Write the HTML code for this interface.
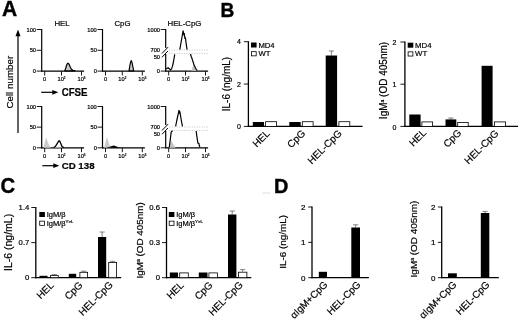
<!DOCTYPE html>
<html><head><meta charset="utf-8"><title>Figure</title>
<style>html,body{margin:0;padding:0;background:#fff;}svg{display:block}text{font-family:"Liberation Sans", sans-serif;fill:#000;stroke:#000;stroke-width:0.2px}</style>
</head><body>
<svg width="520" height="320" viewBox="0 0 520 320">
<rect width="520" height="320" fill="#fff"/>
<text transform="translate(2.0 15.5) scale(0.97 1)" font-size="21.7" font-weight="bold" style="stroke-width:0.4px">A</text>
<text transform="translate(220.4 17) scale(0.94 1)" font-size="20.4" font-weight="bold" style="stroke-width:0.4px">B</text>
<text transform="translate(0.6 192.9) scale(0.92 1)" font-size="22.1" font-weight="bold" style="stroke-width:0.4px">C</text>
<text transform="translate(274 192.6) scale(0.95 1)" font-size="21" font-weight="bold" style="stroke-width:0.4px">D</text>
<line x1="262.3" y1="193" x2="270.2" y2="193" stroke="#ddd" stroke-width="1"/>
<line x1="18" y1="133" x2="18" y2="35" stroke="#222" stroke-width="1.4"/>
<path d="M18 29.6 L15.5 36.3 L20.5 36.3 Z" fill="#000" stroke="none" stroke-width="1"/>
<text x="13.3" y="82.2" font-size="9.8" text-anchor="middle" transform="rotate(-90 13.3 82.2)">Cell number</text>
<text x="62" y="25.6" font-size="7.8" text-anchor="middle">HEL</text>
<text x="122.5" y="25.6" font-size="7.8" text-anchor="middle">CpG</text>
<text x="184.4" y="25.6" font-size="7.8" text-anchor="middle">HEL-CpG</text>
<line x1="41.2" y1="92.3" x2="53" y2="92.3" stroke="#000" stroke-width="1.2"/>
<path d="M58.3 92.3 L52.3 89.9 L52.3 94.7 Z" fill="#000" stroke="none" stroke-width="1"/>
<text transform="translate(61.7 95.9) scale(0.97 1)" font-size="10" font-weight="bold">CFSE</text>
<line x1="42.3" y1="165.7" x2="54" y2="165.7" stroke="#000" stroke-width="1.2"/>
<path d="M59.3 165.7 L53.3 163.3 L53.3 168.1 Z" fill="#000" stroke="none" stroke-width="1"/>
<text x="61.7" y="169.2" font-size="9.7" text-anchor="start" font-weight="bold">CD 138</text>
<line x1="41.7" y1="29.0" x2="41.7" y2="71.6" stroke="#000" stroke-width="1.2"/>
<line x1="36.7" y1="71.1" x2="41.7" y2="71.1" stroke="#000" stroke-width="0.9"/>
<text x="36.0" y="73.19999999999999" font-size="5.7" text-anchor="end">0</text>
<line x1="36.7" y1="50.3" x2="41.7" y2="50.3" stroke="#000" stroke-width="0.9"/>
<text x="36.0" y="52.4" font-size="5.7" text-anchor="end">50</text>
<line x1="36.7" y1="29.5" x2="41.7" y2="29.5" stroke="#000" stroke-width="0.9"/>
<text x="36.0" y="31.6" font-size="5.7" text-anchor="end">100</text>
<line x1="41.2" y1="71.1" x2="84.1" y2="71.1" stroke="#000" stroke-width="1.3"/>
<line x1="44.7" y1="71.1" x2="44.7" y2="75.5" stroke="#000" stroke-width="0.9"/>
<text x="44.7" y="81.3" font-size="5.7" text-anchor="middle">0</text>
<line x1="61.5" y1="71.1" x2="61.5" y2="75.5" stroke="#000" stroke-width="0.9"/>
<text x="61.5" y="81.3" font-size="5.7" text-anchor="middle">10<tspan font-size="3" dy="-2.2">2</tspan></text>
<line x1="81.5" y1="71.1" x2="81.5" y2="75.5" stroke="#000" stroke-width="0.9"/>
<text x="81.5" y="81.3" font-size="5.7" text-anchor="middle">10<tspan font-size="3" dy="-2.2">5</tspan></text>
<line x1="102.5" y1="29.0" x2="102.5" y2="71.6" stroke="#000" stroke-width="1.2"/>
<line x1="97.5" y1="71.1" x2="102.5" y2="71.1" stroke="#000" stroke-width="0.9"/>
<text x="96.8" y="73.19999999999999" font-size="5.7" text-anchor="end">0</text>
<line x1="97.5" y1="50.3" x2="102.5" y2="50.3" stroke="#000" stroke-width="0.9"/>
<text x="96.8" y="52.4" font-size="5.7" text-anchor="end">50</text>
<line x1="97.5" y1="29.5" x2="102.5" y2="29.5" stroke="#000" stroke-width="0.9"/>
<text x="96.8" y="31.6" font-size="5.7" text-anchor="end">100</text>
<line x1="102.0" y1="71.1" x2="144.9" y2="71.1" stroke="#000" stroke-width="1.3"/>
<line x1="105.5" y1="71.1" x2="105.5" y2="75.5" stroke="#000" stroke-width="0.9"/>
<text x="105.5" y="81.3" font-size="5.7" text-anchor="middle">0</text>
<line x1="122.3" y1="71.1" x2="122.3" y2="75.5" stroke="#000" stroke-width="0.9"/>
<text x="122.3" y="81.3" font-size="5.7" text-anchor="middle">10<tspan font-size="3" dy="-2.2">2</tspan></text>
<line x1="142.3" y1="71.1" x2="142.3" y2="75.5" stroke="#000" stroke-width="0.9"/>
<text x="142.3" y="81.3" font-size="5.7" text-anchor="middle">10<tspan font-size="3" dy="-2.2">5</tspan></text>
<line x1="165.7" y1="29.0" x2="165.7" y2="48.0" stroke="#000" stroke-width="1.2"/>
<line x1="165.7" y1="54.0" x2="165.7" y2="71.6" stroke="#000" stroke-width="1.2"/>
<text x="160.0" y="31.6" font-size="5.7" text-anchor="end">1000</text>
<text x="160.0" y="51.800000000000004" font-size="5.7" text-anchor="end">700</text>
<text x="160.0" y="58.9" font-size="5.7" text-anchor="end">50</text>
<text x="160.0" y="73.19999999999999" font-size="5.7" text-anchor="end">0</text>
<line x1="160.7" y1="29.5" x2="165.7" y2="29.5" stroke="#000" stroke-width="0.9"/>
<line x1="160.7" y1="71.1" x2="165.7" y2="71.1" stroke="#000" stroke-width="0.9"/>
<line x1="162.0" y1="53.5" x2="168.1" y2="47.1" stroke="#000" stroke-width="1"/>
<line x1="162.0" y1="57.3" x2="167.89999999999998" y2="51.0" stroke="#000" stroke-width="1"/>
<line x1="169.2" y1="50.0" x2="208.6" y2="50.0" stroke="#b4b4b4" stroke-width="0.8" stroke-dasharray="1 1.5"/>
<line x1="169.2" y1="53.4" x2="208.6" y2="53.4" stroke="#b4b4b4" stroke-width="0.8" stroke-dasharray="1 1.5"/>
<line x1="165.2" y1="71.1" x2="208.1" y2="71.1" stroke="#000" stroke-width="1.3"/>
<line x1="168.7" y1="71.1" x2="168.7" y2="75.5" stroke="#000" stroke-width="0.9"/>
<text x="168.7" y="81.3" font-size="5.7" text-anchor="middle">0</text>
<line x1="185.5" y1="71.1" x2="185.5" y2="75.5" stroke="#000" stroke-width="0.9"/>
<text x="185.5" y="81.3" font-size="5.7" text-anchor="middle">10<tspan font-size="3" dy="-2.2">2</tspan></text>
<line x1="205.5" y1="71.1" x2="205.5" y2="75.5" stroke="#000" stroke-width="0.9"/>
<text x="205.5" y="81.3" font-size="5.7" text-anchor="middle">10<tspan font-size="3" dy="-2.2">5</tspan></text>
<line x1="41.7" y1="106.0" x2="41.7" y2="148.3" stroke="#000" stroke-width="1.2"/>
<line x1="36.7" y1="147.8" x2="41.7" y2="147.8" stroke="#000" stroke-width="0.9"/>
<text x="36.0" y="149.9" font-size="5.7" text-anchor="end">0</text>
<line x1="36.7" y1="127.15" x2="41.7" y2="127.15" stroke="#000" stroke-width="0.9"/>
<text x="36.0" y="129.25" font-size="5.7" text-anchor="end">50</text>
<line x1="36.7" y1="106.5" x2="41.7" y2="106.5" stroke="#000" stroke-width="0.9"/>
<text x="36.0" y="108.6" font-size="5.7" text-anchor="end">100</text>
<line x1="41.2" y1="147.8" x2="84.1" y2="147.8" stroke="#000" stroke-width="1.3"/>
<line x1="44.7" y1="147.8" x2="44.7" y2="152.20000000000002" stroke="#000" stroke-width="0.9"/>
<text x="44.7" y="158.0" font-size="5.7" text-anchor="middle">0</text>
<line x1="61.5" y1="147.8" x2="61.5" y2="152.20000000000002" stroke="#000" stroke-width="0.9"/>
<text x="61.5" y="158.0" font-size="5.7" text-anchor="middle">10<tspan font-size="3" dy="-2.2">2</tspan></text>
<line x1="81.5" y1="147.8" x2="81.5" y2="152.20000000000002" stroke="#000" stroke-width="0.9"/>
<text x="81.5" y="158.0" font-size="5.7" text-anchor="middle">10<tspan font-size="3" dy="-2.2">5</tspan></text>
<line x1="102.5" y1="106.0" x2="102.5" y2="148.3" stroke="#000" stroke-width="1.2"/>
<line x1="97.5" y1="147.8" x2="102.5" y2="147.8" stroke="#000" stroke-width="0.9"/>
<text x="96.8" y="149.9" font-size="5.7" text-anchor="end">0</text>
<line x1="97.5" y1="127.15" x2="102.5" y2="127.15" stroke="#000" stroke-width="0.9"/>
<text x="96.8" y="129.25" font-size="5.7" text-anchor="end">50</text>
<line x1="97.5" y1="106.5" x2="102.5" y2="106.5" stroke="#000" stroke-width="0.9"/>
<text x="96.8" y="108.6" font-size="5.7" text-anchor="end">100</text>
<line x1="102.0" y1="147.8" x2="144.9" y2="147.8" stroke="#000" stroke-width="1.3"/>
<line x1="105.5" y1="147.8" x2="105.5" y2="152.20000000000002" stroke="#000" stroke-width="0.9"/>
<text x="105.5" y="158.0" font-size="5.7" text-anchor="middle">0</text>
<line x1="122.3" y1="147.8" x2="122.3" y2="152.20000000000002" stroke="#000" stroke-width="0.9"/>
<text x="122.3" y="158.0" font-size="5.7" text-anchor="middle">10<tspan font-size="3" dy="-2.2">2</tspan></text>
<line x1="142.3" y1="147.8" x2="142.3" y2="152.20000000000002" stroke="#000" stroke-width="0.9"/>
<text x="142.3" y="158.0" font-size="5.7" text-anchor="middle">10<tspan font-size="3" dy="-2.2">5</tspan></text>
<line x1="165.7" y1="106.0" x2="165.7" y2="125.0" stroke="#000" stroke-width="1.2"/>
<line x1="165.7" y1="131.0" x2="165.7" y2="148.3" stroke="#000" stroke-width="1.2"/>
<text x="160.0" y="108.6" font-size="5.7" text-anchor="end">1000</text>
<text x="160.0" y="128.8" font-size="5.7" text-anchor="end">700</text>
<text x="160.0" y="135.9" font-size="5.7" text-anchor="end">50</text>
<text x="160.0" y="149.9" font-size="5.7" text-anchor="end">0</text>
<line x1="160.7" y1="106.5" x2="165.7" y2="106.5" stroke="#000" stroke-width="0.9"/>
<line x1="160.7" y1="147.8" x2="165.7" y2="147.8" stroke="#000" stroke-width="0.9"/>
<line x1="162.0" y1="130.5" x2="168.1" y2="124.1" stroke="#000" stroke-width="1"/>
<line x1="162.0" y1="134.3" x2="167.89999999999998" y2="128.0" stroke="#000" stroke-width="1"/>
<line x1="169.2" y1="127.0" x2="208.6" y2="127.0" stroke="#b4b4b4" stroke-width="0.8" stroke-dasharray="1 1.5"/>
<line x1="169.2" y1="130.4" x2="208.6" y2="130.4" stroke="#b4b4b4" stroke-width="0.8" stroke-dasharray="1 1.5"/>
<line x1="165.2" y1="147.8" x2="208.1" y2="147.8" stroke="#000" stroke-width="1.3"/>
<line x1="168.7" y1="147.8" x2="168.7" y2="152.20000000000002" stroke="#000" stroke-width="0.9"/>
<text x="168.7" y="158.0" font-size="5.7" text-anchor="middle">0</text>
<line x1="185.5" y1="147.8" x2="185.5" y2="152.20000000000002" stroke="#000" stroke-width="0.9"/>
<text x="185.5" y="158.0" font-size="5.7" text-anchor="middle">10<tspan font-size="3" dy="-2.2">2</tspan></text>
<line x1="205.5" y1="147.8" x2="205.5" y2="152.20000000000002" stroke="#000" stroke-width="0.9"/>
<text x="205.5" y="158.0" font-size="5.7" text-anchor="middle">10<tspan font-size="3" dy="-2.2">5</tspan></text>
<path d="M64.8 70.8 L65.8 68 L66.8 64.5 L67.8 63.2 L69 64 L70 66.5 L71.2 69 L72.8 70.3 L75 70.8 Z" fill="#c8c8c8" stroke="#000" stroke-width="1.2" stroke-linejoin="round"/>
<path d="M129 70.8 L129.8 66 L130.6 62 L131.3 60.6 L132 62.5 L132.8 66.5 L133.7 70.8 Z" fill="#c8c8c8" stroke="#000" stroke-width="1.2" stroke-linejoin="round"/>
<path d="M191.2 70.8 L192.3 68 L193.5 65 L194.7 67.5 L196.3 70.8 Z" fill="#c4c4c4" stroke="none" stroke-width="1"/>
<path d="M166.2 69 L167.2 68.2 L168.1 67.7 L169.3 68.8 L170.6 70 L171.6 68.8 L172.5 66.2 L173.2 63 L173.8 60 L174.3 57 L174.7 54.3" fill="none" stroke="#000" stroke-width="1.2"/>
<path d="M179.8 49.6 L180.6 45 L181.4 40.5 L182.2 36 L183.1 30.6 L183.8 34.5 L184.3 34 L184.9 38.2 L185.5 38 L186 42.5 L186.5 46 L187.1 49.6" fill="none" stroke="#000" stroke-width="1.2"/>
<path d="M190.5 54 L191.2 56.5 L192 58.5 L192.6 60.5 L193.3 62.5 L193.9 64.8 L194.8 66.5 L195.6 68.2 L196.4 69.6 L197.3 70.4" fill="none" stroke="#000" stroke-width="1.2"/>
<path d="M43.6 147.8 L44.8 142 L46.2 137.5 L47.5 141 L49 145 L50.8 147.8 Z" fill="#ccc" stroke="none" stroke-width="1"/>
<path d="M53.8 147.6 L55.3 146.5 L57 143.8 L58.8 140.9 L59.7 141 L60.8 143.5 L62 146.6 L63.8 147.6" fill="#fff" stroke="#000" stroke-width="1.3" stroke-linejoin="round"/>
<path d="M104.3 147.8 L105.5 142 L106.9 137 L108.2 141 L109.5 145 L110.8 147.8 Z" fill="#ccc" stroke="none" stroke-width="1"/>
<path d="M105.6 147.8 L109 147 L112 146 L113.8 145.5 L116 146.3 L118.5 147.2 L120.8 147.8 Z" fill="#000" stroke="none" stroke-width="1"/>
<path d="M169.3 147.8 L170.3 143.5 L171.3 140.6 L172.8 143.5 L174.2 146 L175.7 147.8 Z" fill="#c4c4c4" stroke="none" stroke-width="1"/>
<path d="M169.3 147.2 L169.8 143 L170.4 138.7 L170.8 135 L171.2 132.3 L171.8 131.3 L172.8 131" fill="none" stroke="#000" stroke-width="1.2"/>
<path d="M175.6 126.3 L176.3 123 L177 119.5 L177.8 116 L178.5 112.5 L179 110.1 L179.6 113 L180 112.5 L180.5 115.5 L181 118.5 L181.7 122.5 L182.5 126.3" fill="none" stroke="#000" stroke-width="1.2"/>
<path d="M196.2 131 L196.6 134.5 L197.2 138.7 L197.9 143 L199 143.6 L199.3 145.5 L199.8 147" fill="none" stroke="#000" stroke-width="1.2"/>
<line x1="248.4" y1="41.2" x2="248.4" y2="127.0" stroke="#000" stroke-width="1.3"/>
<line x1="247.8" y1="126.4" x2="362.5" y2="126.4" stroke="#000" stroke-width="1.3"/>
<line x1="243.9" y1="126.4" x2="248.4" y2="126.4" stroke="#000" stroke-width="0.9"/>
<text x="240.8" y="128.9" font-size="7" text-anchor="end">0</text>
<line x1="243.9" y1="84.05000000000001" x2="248.4" y2="84.05000000000001" stroke="#000" stroke-width="0.9"/>
<text x="240.8" y="86.55000000000001" font-size="7" text-anchor="end">2</text>
<line x1="243.9" y1="41.7" x2="248.4" y2="41.7" stroke="#000" stroke-width="0.9"/>
<text x="240.8" y="44.2" font-size="7" text-anchor="end">4</text>
<text x="230.5" y="84.05000000000001" font-size="10" text-anchor="middle" transform="rotate(-90 230.5 84.05000000000001)">IL-6 (ng/mL)</text>
<rect x="252.80" y="122.00" width="11.20" height="4.40" fill="#000"/>
<rect x="265.60" y="121.70" width="11.00" height="4.70" fill="#fff" stroke="#000" stroke-width="0.8"/>
<rect x="289.30" y="122.00" width="11.40" height="4.40" fill="#000"/>
<rect x="302.30" y="121.70" width="10.80" height="4.70" fill="#fff" stroke="#000" stroke-width="0.8"/>
<line x1="331.4" y1="55.5" x2="331.4" y2="51" stroke="#333" stroke-width="0.6"/>
<line x1="328.79999999999995" y1="51" x2="334.0" y2="51" stroke="#333" stroke-width="0.6"/>
<rect x="325.70" y="55.50" width="11.40" height="70.90" fill="#000"/>
<rect x="338.90" y="121.70" width="10.90" height="4.70" fill="#fff" stroke="#000" stroke-width="0.8"/>
<text x="270.4" y="134" font-size="10" text-anchor="end" transform="rotate(-45 270.4 134)">HEL</text>
<text x="305.9" y="134" font-size="10" text-anchor="end" transform="rotate(-45 305.9 134)">CpG</text>
<text x="342.4" y="134" font-size="10" text-anchor="end" transform="rotate(-45 342.4 134)">HEL-CpG</text>
<rect x="251.00" y="42.50" width="5.60" height="5.00" fill="#000"/>
<text x="258.4" y="47.5" font-size="7.7" text-anchor="start">MD4</text>
<rect x="251.40" y="51.65" width="4.80" height="4.20" fill="#fff" stroke="#000" stroke-width="0.8"/>
<text x="258.4" y="56.25" font-size="7.7" text-anchor="start">WT</text>
<line x1="404.9" y1="41.5" x2="404.9" y2="127.0" stroke="#000" stroke-width="1.3"/>
<line x1="404.29999999999995" y1="126.4" x2="518" y2="126.4" stroke="#000" stroke-width="1.3"/>
<line x1="400.4" y1="126.4" x2="404.9" y2="126.4" stroke="#000" stroke-width="0.9"/>
<text x="396.29999999999995" y="129.5" font-size="7" text-anchor="end">0</text>
<line x1="400.4" y1="84.2" x2="404.9" y2="84.2" stroke="#000" stroke-width="0.9"/>
<text x="396.29999999999995" y="87.3" font-size="7" text-anchor="end">1</text>
<line x1="400.4" y1="42.0" x2="404.9" y2="42.0" stroke="#000" stroke-width="0.9"/>
<text x="396.29999999999995" y="45.1" font-size="7" text-anchor="end">2</text>
<text x="387" y="80.5" font-size="10" text-anchor="middle" transform="rotate(-90 387 80.5)">IgM<tspan font-size="5" dy="-3.5">a</tspan><tspan dy="3.5"> (OD 405nm)</tspan></text>
<rect x="409.30" y="114.50" width="11.30" height="11.90" fill="#000"/>
<rect x="421.90" y="121.90" width="10.70" height="4.50" fill="#fff" stroke="#000" stroke-width="0.8"/>
<line x1="450.9" y1="119.4" x2="450.9" y2="118" stroke="#333" stroke-width="0.6"/>
<line x1="448.29999999999995" y1="118" x2="453.5" y2="118" stroke="#333" stroke-width="0.6"/>
<rect x="445.50" y="119.40" width="10.80" height="7.00" fill="#000"/>
<rect x="457.70" y="122.40" width="10.50" height="4.00" fill="#fff" stroke="#000" stroke-width="0.8"/>
<rect x="481.60" y="65.80" width="11.00" height="60.60" fill="#000"/>
<rect x="494.40" y="121.90" width="11.20" height="4.50" fill="#fff" stroke="#000" stroke-width="0.8"/>
<text x="427" y="133.3" font-size="10" text-anchor="end" transform="rotate(-45 427 133.3)">HEL</text>
<text x="462" y="133.5" font-size="10" text-anchor="end" transform="rotate(-45 462 133.5)">CpG</text>
<text x="499.2" y="134" font-size="10" text-anchor="end" transform="rotate(-45 499.2 134)">HEL-CpG</text>
<rect x="407.70" y="42.70" width="5.60" height="5.00" fill="#000"/>
<text x="415.09999999999997" y="47.7" font-size="7.8" text-anchor="start">MD4</text>
<rect x="408.10" y="51.85" width="4.80" height="4.20" fill="#fff" stroke="#000" stroke-width="0.8"/>
<text x="415.09999999999997" y="56.45" font-size="7.8" text-anchor="start">WT</text>
<line x1="35.8" y1="207.0" x2="35.8" y2="278.3" stroke="#000" stroke-width="1.3"/>
<line x1="35.199999999999996" y1="277.7" x2="121.2" y2="277.7" stroke="#000" stroke-width="1.3"/>
<line x1="31.299999999999997" y1="277.7" x2="35.8" y2="277.7" stroke="#000" stroke-width="0.9"/>
<text x="29.299999999999997" y="280.2" font-size="7.7" text-anchor="end">0</text>
<line x1="31.299999999999997" y1="242.6" x2="35.8" y2="242.6" stroke="#000" stroke-width="0.9"/>
<text x="29.299999999999997" y="245.1" font-size="7.7" text-anchor="end">0.7</text>
<line x1="31.299999999999997" y1="207.5" x2="35.8" y2="207.5" stroke="#000" stroke-width="0.9"/>
<text x="29.299999999999997" y="210.0" font-size="7.7" text-anchor="end">1.4</text>
<text x="11.6" y="242.4" font-size="10.5" text-anchor="middle" transform="rotate(-90 11.6 242.4)">IL-6 (ng/mL)</text>
<rect x="39.50" y="275.80" width="8.00" height="1.90" fill="#000"/>
<line x1="54.35" y1="275.2" x2="54.35" y2="274.6" stroke="#333" stroke-width="0.6"/>
<line x1="51.75" y1="274.6" x2="56.95" y2="274.6" stroke="#333" stroke-width="0.6"/>
<rect x="50.40" y="275.60" width="7.90" height="2.10" fill="#fff" stroke="#000" stroke-width="0.8"/>
<rect x="68.80" y="273.80" width="7.40" height="3.90" fill="#000"/>
<line x1="83.75" y1="271.9" x2="83.75" y2="271.2" stroke="#333" stroke-width="0.6"/>
<line x1="81.15" y1="271.2" x2="86.35" y2="271.2" stroke="#333" stroke-width="0.6"/>
<rect x="79.90" y="272.30" width="7.70" height="5.40" fill="#fff" stroke="#000" stroke-width="0.8"/>
<line x1="102.1" y1="237" x2="102.1" y2="232" stroke="#333" stroke-width="0.6"/>
<line x1="99.5" y1="232" x2="104.69999999999999" y2="232" stroke="#333" stroke-width="0.6"/>
<rect x="98.00" y="237.00" width="8.20" height="40.70" fill="#000"/>
<line x1="112.65" y1="262" x2="112.65" y2="261.3" stroke="#333" stroke-width="0.6"/>
<line x1="110.05000000000001" y1="261.3" x2="115.25" y2="261.3" stroke="#333" stroke-width="0.6"/>
<rect x="108.70" y="262.40" width="7.90" height="15.30" fill="#fff" stroke="#000" stroke-width="0.8"/>
<text x="54.5" y="285.8" font-size="10" text-anchor="end" transform="rotate(-45 54.5 285.8)">HEL</text>
<text x="83.2" y="285.8" font-size="10" text-anchor="end" transform="rotate(-45 83.2 285.8)">CpG</text>
<text x="113.4" y="285.5" font-size="10" text-anchor="end" transform="rotate(-45 113.4 285.5)">HEL-CpG</text>
<rect x="39.30" y="212.00" width="5.60" height="5.00" fill="#000"/>
<text x="46.699999999999996" y="217.0" font-size="7.5" text-anchor="start">IgM/β</text>
<rect x="39.70" y="221.15" width="4.80" height="4.20" fill="#fff" stroke="#000" stroke-width="0.8"/>
<text x="46.699999999999996" y="225.75" font-size="7.5" text-anchor="start">IgM/β<tspan font-size="4.4" dy="-2.6">Y&gt;L</tspan></text>
<line x1="166.5" y1="207.0" x2="166.5" y2="278.3" stroke="#000" stroke-width="1.3"/>
<line x1="165.9" y1="277.7" x2="251.3" y2="277.7" stroke="#000" stroke-width="1.3"/>
<line x1="162.0" y1="277.7" x2="166.5" y2="277.7" stroke="#000" stroke-width="0.9"/>
<text x="160.0" y="280.2" font-size="7.7" text-anchor="end">0</text>
<line x1="162.0" y1="242.6" x2="166.5" y2="242.6" stroke="#000" stroke-width="0.9"/>
<text x="160.0" y="245.1" font-size="7.7" text-anchor="end">0.3</text>
<line x1="162.0" y1="207.5" x2="166.5" y2="207.5" stroke="#000" stroke-width="0.9"/>
<text x="160.0" y="210.0" font-size="7.7" text-anchor="end">0.6</text>
<text x="143.2" y="240.3" font-size="9.9" text-anchor="middle" transform="rotate(-90 143.2 240.3)">IgM<tspan font-size="5" dy="-3.5">a</tspan><tspan dy="3.5"> (OD 405nm)</tspan></text>
<rect x="169.80" y="272.50" width="8.20" height="5.20" fill="#000"/>
<rect x="179.70" y="272.90" width="8.60" height="4.80" fill="#fff" stroke="#000" stroke-width="0.8"/>
<rect x="198.80" y="272.50" width="8.70" height="5.20" fill="#000"/>
<rect x="208.90" y="272.90" width="8.50" height="4.80" fill="#fff" stroke="#000" stroke-width="0.8"/>
<line x1="232.2" y1="214.5" x2="232.2" y2="211" stroke="#333" stroke-width="0.6"/>
<line x1="229.6" y1="211" x2="234.79999999999998" y2="211" stroke="#333" stroke-width="0.6"/>
<rect x="228.00" y="214.50" width="8.40" height="63.20" fill="#000"/>
<line x1="242.65" y1="271.8" x2="242.65" y2="269.6" stroke="#333" stroke-width="0.6"/>
<line x1="240.05" y1="269.6" x2="245.25" y2="269.6" stroke="#333" stroke-width="0.6"/>
<rect x="238.40" y="272.20" width="8.50" height="5.50" fill="#fff" stroke="#000" stroke-width="0.8"/>
<text x="184.5" y="285.8" font-size="10" text-anchor="end" transform="rotate(-45 184.5 285.8)">HEL</text>
<text x="213.2" y="285.8" font-size="10" text-anchor="end" transform="rotate(-45 213.2 285.8)">CpG</text>
<text x="243.4" y="285.5" font-size="10" text-anchor="end" transform="rotate(-45 243.4 285.5)">HEL-CpG</text>
<rect x="168.80" y="212.00" width="5.60" height="5.00" fill="#000"/>
<text x="176.20000000000002" y="217.0" font-size="7.5" text-anchor="start">IgM/β</text>
<rect x="169.20" y="221.15" width="4.80" height="4.20" fill="#fff" stroke="#000" stroke-width="0.8"/>
<text x="176.20000000000002" y="225.75" font-size="7.5" text-anchor="start">IgM/β<tspan font-size="4.4" dy="-2.6">Y&gt;L</tspan></text>
<line x1="312" y1="206.5" x2="312" y2="278.3" stroke="#000" stroke-width="1.3"/>
<line x1="311.4" y1="277.7" x2="368.9" y2="277.7" stroke="#000" stroke-width="1.3"/>
<line x1="308.2" y1="277.7" x2="312" y2="277.7" stroke="#000" stroke-width="0.9"/>
<text x="305.4" y="280.5" font-size="8" text-anchor="end">0</text>
<line x1="308.2" y1="242.35" x2="312" y2="242.35" stroke="#000" stroke-width="0.9"/>
<text x="305.4" y="245.15" font-size="8" text-anchor="end">1</text>
<line x1="308.2" y1="207.0" x2="312" y2="207.0" stroke="#000" stroke-width="0.9"/>
<text x="305.4" y="209.8" font-size="8" text-anchor="end">2</text>
<text x="286.4" y="241.8" font-size="9.9" text-anchor="middle" transform="rotate(-90 286.4 241.8)">IL-6 (ng/mL)</text>
<rect x="318.80" y="271.80" width="8.20" height="5.90" fill="#000"/>
<line x1="355.65" y1="227.5" x2="355.65" y2="224.8" stroke="#333" stroke-width="0.6"/>
<line x1="353.04999999999995" y1="224.8" x2="358.25" y2="224.8" stroke="#333" stroke-width="0.6"/>
<rect x="351.30" y="227.50" width="8.70" height="50.20" fill="#000"/>
<text x="328.3" y="285.2" font-size="9.9" text-anchor="end" transform="rotate(-45 328.3 285.2)">αIgM+CpG</text>
<text x="361.3" y="285.2" font-size="9.9" text-anchor="end" transform="rotate(-45 361.3 285.2)">HEL-CpG</text>
<line x1="441.7" y1="206.5" x2="441.7" y2="278.3" stroke="#000" stroke-width="1.3"/>
<line x1="441.09999999999997" y1="277.7" x2="498.8" y2="277.7" stroke="#000" stroke-width="1.3"/>
<line x1="437.9" y1="277.7" x2="441.7" y2="277.7" stroke="#000" stroke-width="0.9"/>
<text x="435.5" y="280.5" font-size="8" text-anchor="end">0</text>
<line x1="437.9" y1="242.35" x2="441.7" y2="242.35" stroke="#000" stroke-width="0.9"/>
<text x="435.5" y="245.15" font-size="8" text-anchor="end">1</text>
<line x1="437.9" y1="207.0" x2="441.7" y2="207.0" stroke="#000" stroke-width="0.9"/>
<text x="435.5" y="209.8" font-size="8" text-anchor="end">2</text>
<text x="417.2" y="239" font-size="9.95" text-anchor="middle" transform="rotate(-90 417.2 239)">IgM<tspan font-size="5" dy="-3.5">a</tspan><tspan dy="3.5"> (OD 405nm)</tspan></text>
<rect x="448.00" y="273.30" width="8.80" height="4.40" fill="#000"/>
<line x1="485.05" y1="213" x2="485.05" y2="211.4" stroke="#333" stroke-width="0.6"/>
<line x1="482.45" y1="211.4" x2="487.65000000000003" y2="211.4" stroke="#333" stroke-width="0.6"/>
<rect x="480.80" y="213.00" width="8.50" height="64.70" fill="#000"/>
<text x="457.3" y="285.2" font-size="9.9" text-anchor="end" transform="rotate(-45 457.3 285.2)">αIgM+CpG</text>
<text x="490.3" y="285.2" font-size="9.9" text-anchor="end" transform="rotate(-45 490.3 285.2)">HEL-CpG</text>
</svg></body></html>
